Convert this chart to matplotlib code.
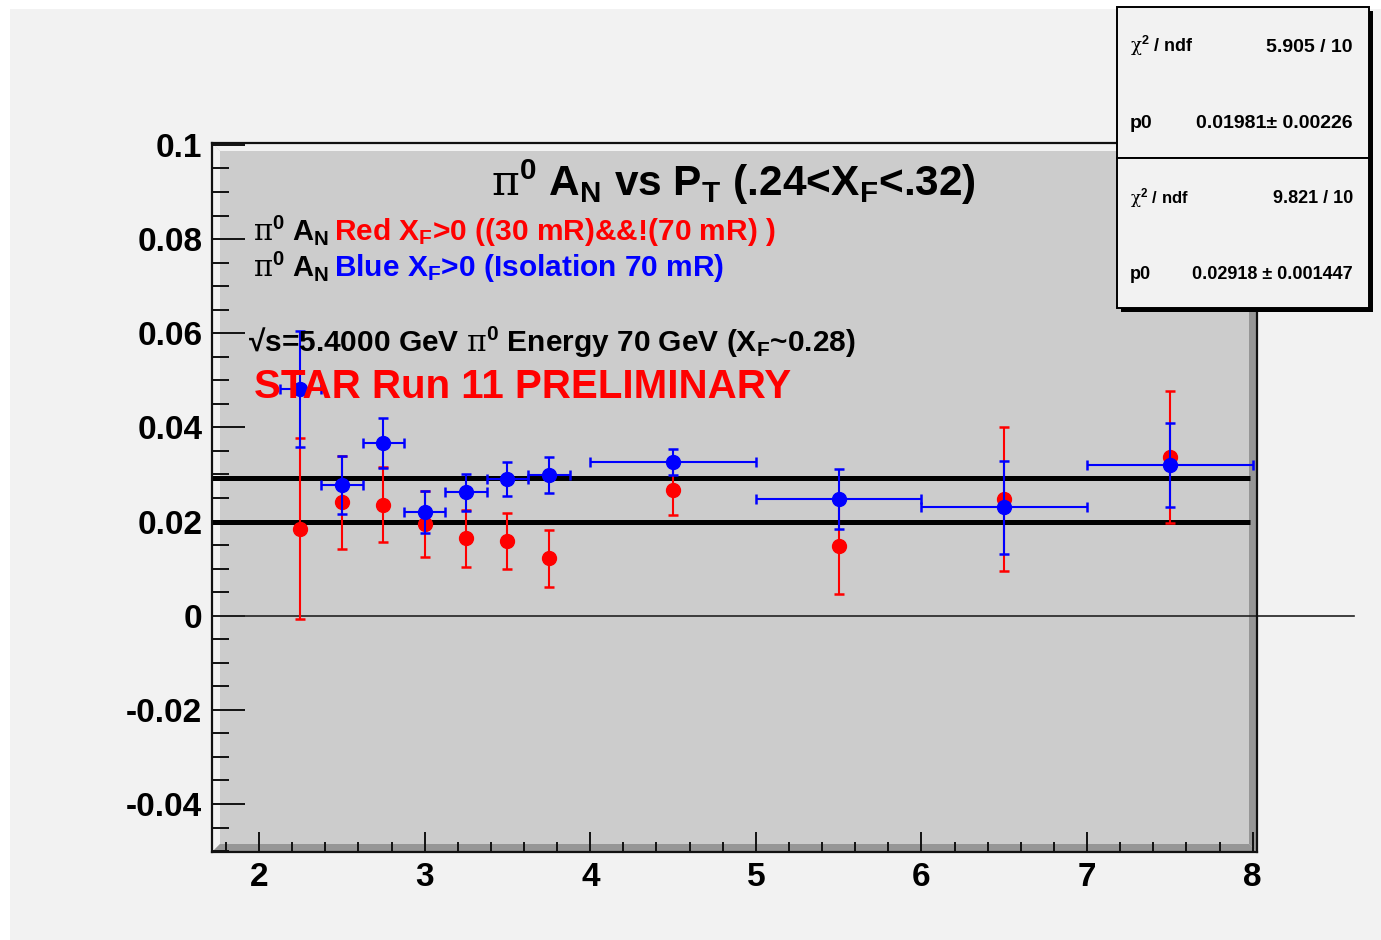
import matplotlib
matplotlib.use("Agg")
import matplotlib.pyplot as plt
from matplotlib.patches import Rectangle, Polygon
from matplotlib.ticker import MultipleLocator, FormatStrFormatter

# data
pt_red = [2.25, 2.5, 2.75, 3.0, 3.25, 3.5, 3.75, 4.5, 5.5, 6.5, 7.5]
an_red = [0.0185, 0.0241, 0.0236, 0.0195, 0.0164, 0.0159, 0.0122, 0.0266, 0.0149, 0.0248, 0.0337]
err_red = [0.0192, 0.0099, 0.0080, 0.0070, 0.0061, 0.0060, 0.0061, 0.0053, 0.0102, 0.0153, 0.0141]

pt_blue = [2.25, 2.5, 2.75, 3.0, 3.25, 3.5, 3.75, 4.5, 5.5, 6.5, 7.5]
an_blue = [0.0481, 0.0278, 0.0366, 0.0220, 0.0262, 0.0291, 0.0299, 0.0326, 0.0248, 0.0230, 0.0320]
err_blue = [0.0123, 0.0062, 0.0053, 0.0044, 0.0039, 0.0036, 0.0038, 0.0027, 0.0064, 0.0098, 0.0089]
xerr_blue = [0.125, 0.125, 0.125, 0.125, 0.125, 0.125, 0.125, 0.5, 0.5, 0.5, 0.5]

fit_red = 0.01981
fit_blue = 0.02918
stats = [("5.905 / 10", "0.01981\u00b1 0.00226"),
         ("9.821 / 10", "0.02918 \u00b1 0.001447")]

W, H = 1381, 940
plt.rcParams['font.family'] = ['Liberation Sans', 'DejaVu Sans']
plt.rcParams['font.weight'] = 'bold'
plt.rcParams['mathtext.default'] = 'regular'
plt.rcParams['mathtext.fontset'] = 'custom'
plt.rcParams['mathtext.rm'] = 'DejaVu Serif:weight=normal'

fig = plt.figure(figsize=(W / 100, H / 100), dpi=100, facecolor='white')

def fx(px):
    return px / W

def fy(py):
    return 1 - py / H

# canvas
fig.patches.append(Rectangle((fx(10), 0), 1 - fx(10), fy(9), transform=fig.transFigure,
                             facecolor='#f2f2f2', edgecolor='none', zorder=-5))

ax_l, ax_r, ax_t, ax_b = 212, 1257, 143, 852
ax = fig.add_axes([fx(ax_l), fy(ax_b), fx(ax_r - ax_l), (ax_b - ax_t) / H])
ax.set_facecolor('#cccccc')
xlim = (1.716, 8.026)
ylim = (-0.0502, 0.1004)
ax.set_xlim(*xlim)
ax.set_ylim(*ylim)

# bevel of the frame
aw, ah = ax_r - ax_l, ax_b - ax_t
tx, ty = 8 / aw, 8 / ah
light = '#f2f2f2'
dark = '#969696'
for pts, c in [([(0, 0), (0, 1), (tx, 1 - ty), (tx, ty)], light),
               ([(0, 1), (1, 1), (1 - tx, 1 - ty), (tx, 1 - ty)], light),
               ([(1, 1), (1, 0), (1 - tx, ty), (1 - tx, 1 - ty)], dark),
               ([(0, 0), (1, 0), (1 - tx, ty), (tx, ty)], dark)]:
    ax.add_patch(Polygon(pts, closed=True, transform=ax.transAxes,
                         facecolor=c, edgecolor='none', zorder=0.5))

for s in ax.spines.values():
    s.set_color('#111111')
    s.set_linewidth(1.6)

ax.xaxis.set_major_locator(MultipleLocator(1))
ax.xaxis.set_minor_locator(MultipleLocator(0.2))
ax.yaxis.set_major_locator(MultipleLocator(0.02))
ax.yaxis.set_minor_locator(MultipleLocator(0.005))
ax.xaxis.set_major_formatter(FormatStrFormatter('%g'))
ax.yaxis.set_major_formatter(FormatStrFormatter('%g'))
ax.tick_params(axis='x', which='major', direction='in', length=14.4, width=1.4,
               labelsize=24, pad=7, color='#111111')
ax.tick_params(axis='x', which='minor', direction='in', length=7.2, width=1.4, color='#111111')
ax.tick_params(axis='y', which='major', direction='in', length=23.8, width=1.4,
               labelsize=24, pad=7, color='#111111')
ax.tick_params(axis='y', which='minor', direction='in', length=12.5, width=1.4, color='#111111')
for lab in ax.get_xticklabels() + ax.get_yticklabels():
    lab.set_fontweight('bold')

# fit lines and zero line
fit_end = xlim[1] - 7 * (xlim[1] - xlim[0]) / aw
ax.hlines([fit_red, fit_blue], xlim[0], fit_end, colors='black', linewidth=3.6, zorder=2)
ax.plot([xlim[0], 8.61], [0, 0], color='#222222', linewidth=1.2, clip_on=False, zorder=2)

ax.errorbar(pt_red, an_red, yerr=err_red, fmt='o', color='#ff0000', markersize=10,
            elinewidth=1.5, capsize=3.6, capthick=1.8, zorder=3)
ax.errorbar(pt_blue, an_blue, yerr=err_blue, xerr=xerr_blue, fmt='o', color='#0000ff',
            markersize=10, elinewidth=1.5, capsize=3.6, capthick=1.8, zorder=4)

# texts
fig.text(fx(733), fy(196), r"$\mathrm{\pi}^0$ $A_N$ vs $P_T$ (.24<$X_F$<.32)", ha='center',
         va='baseline', fontsize=30.5, fontweight='bold')
fig.text(fx(253), fy(240), r"$\mathrm{\pi}^0$ $A_N$", ha='left', va='baseline', fontsize=21)
fig.text(fx(334), fy(240), r"Red $X_F$>0 ((30 mR)&&!(70 mR) )", ha='left', va='baseline',
         fontsize=21.5, color='#ff0000')
fig.text(fx(253), fy(276), r"$\mathrm{\pi}^0$ $A_N$", ha='left', va='baseline', fontsize=21)
fig.text(fx(334), fy(276), r"Blue $X_F$>0 (Isolation 70 mR)", ha='left', va='baseline',
         fontsize=21.5, color='#0000ff')
fig.text(fx(248), fy(352), "\u221as=5.4000 GeV $\\mathrm{\\pi}^0$ Energy 70 GeV ($X_F$~0.28)",
         ha='left', va='baseline', fontsize=21.5)
fig.text(fx(254), fy(398), "STAR Run 11 PRELIMINARY", ha='left', va='baseline',
         fontsize=29, color='#ff0000')

# stats boxes
boxes = [(7, 158), (158, 308)]
for (top, bot), (chi, p0) in zip(boxes, stats):
    fig.patches.append(Rectangle((fx(1121), fy(bot + 4)), fx(1369 - 1117), (bot - top) / H,
                                 transform=fig.transFigure, facecolor='black',
                                 edgecolor='none', zorder=5))
for (top, bot), (chi, p0) in zip(boxes, stats):
    fig.patches.append(Rectangle((fx(1117), fy(bot)), fx(1369 - 1117), (bot - top) / H,
                                 transform=fig.transFigure, facecolor='#f2f2f2',
                                 edgecolor='black', linewidth=1.4, zorder=6))
for i, ((top, bot), (chi, p0)) in enumerate(zip(boxes, stats)):
    fs = 14 if i == 0 else 13
    fig.text(fx(1130), fy(top + 45), r"$\mathrm{\chi}^2$ / ndf", ha='left', va='baseline',
             fontsize=fs - 1, zorder=7)
    fig.text(fx(1353), fy(top + 45), chi, ha='right', va='baseline', fontsize=fs, zorder=7)
    fig.text(fx(1130), fy(top + 121), "p0", ha='left', va='baseline', fontsize=fs, zorder=7)
    fig.text(fx(1353), fy(top + 121), p0, ha='right', va='baseline', fontsize=fs, zorder=7)

fig.savefig('out.png', dpi=100, facecolor=fig.get_facecolor())
